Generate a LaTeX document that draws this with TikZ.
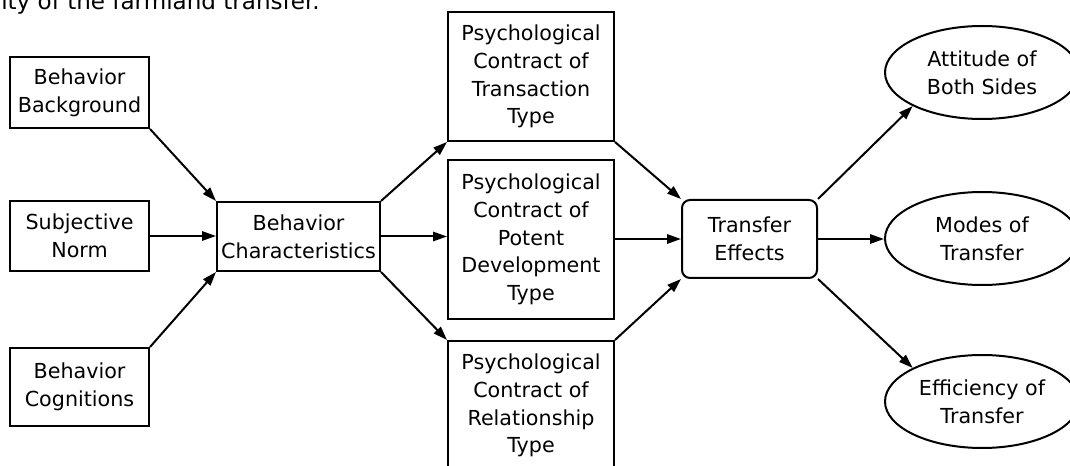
\documentclass[tikz,border=0pt]{standalone}
\usepackage{fontspec}
\setmainfont{DejaVu Sans}
\usetikzlibrary{arrows.meta,shapes.geometric}
\tikzset{
  factorbox/.style={
    rectangle,
    draw=black,
    line width=1.5pt,
    align=center,
    inner sep=0pt,
    minimum width=104.25pt,
    font=\fontsize{15.5}{20.8}\selectfont
  },
  contractbox/.style={
    factorbox,
    minimum width=124.5pt
  },
  effectbox/.style={
    factorbox,
    rounded corners=6pt,
    minimum width=101.25pt,
    minimum height=58.5pt
  },
  outcome/.style={
    ellipse,
    draw=black,
    line width=1.5pt,
    align=center,
    inner sep=0pt,
    minimum width=145.5pt,
    minimum height=69.75pt,
    font=\fontsize{15.5}{20.8}\selectfont
  },
  linkarrow/.style={
    -{Triangle[length=10.5pt,width=7pt]},
    line width=1.5pt,
    draw=black
  }
}
\begin{document}
\begin{tikzpicture}[x=0.75pt,y=-0.75pt]
\clip (0,0) rectangle (1070,466);
\fill[white] (0,0) rectangle (1070,466);

\node[anchor=base west, inner sep=0pt, font=\fontsize{17.3}{20}\selectfont] (caption) at (1,10) {ity of the farmland transfer.};

\node[factorbox, minimum height=53.25pt] (bg) at (79.5,92.5) {Behavior\\Background};
\node[factorbox, minimum height=52.5pt] (norm) at (79.5,236) {Subjective\\Norm};
\node[factorbox, minimum height=58.5pt] (cog) at (79.5,387) {Behavior\\Cognitions};
\node[factorbox, minimum width=122.25pt, minimum height=51.75pt] (chr) at (298.5,236.5) {Behavior\\Characteristics};

\node[contractbox, minimum height=96.75pt] (trans) at (531,76.5) {Psychological\\Contract of\\Transaction\\Type};
\node[contractbox, minimum height=119.25pt] (potent) at (531,239.5) {Psychological\\Contract of\\Potent\\Development\\Type};
\node[contractbox, minimum height=96.75pt] (rel) at (531,405.5) {Psychological\\Contract of\\Relationship\\Type};

\node[effectbox] (effects) at (749.5,239) {Transfer\\Effects};

\node[outcome] (attitude) at (982,72.5) {Attitude of\\Both Sides};
\node[outcome] (modes) at (982,238.5) {Modes of\\Transfer};
\node[outcome] (eff) at (982,401.5) {Efficiency of\\Transfer};

% antecedents
\draw[linkarrow] (bg.south east) -- (chr.north west);
\draw[linkarrow] (norm.east) -- (chr.west |- norm.east);
\draw[linkarrow] (cog.north east) -- (chr.south west);

% contract types
\draw[linkarrow] (chr.north east) -- (trans.south west);
\draw[linkarrow] (chr.east) -- (potent.west |- chr.east);
\draw[linkarrow] (chr.south east) -- (rel.north west);

\draw[linkarrow] (trans.south east) -- (effects.north west);
\draw[linkarrow] (potent.east |- effects.west) -- (effects.west);
\draw[linkarrow] (rel.north east) -- (effects.south west);

% outcomes
\draw[linkarrow] (effects.north east) -- (attitude.south west);
\draw[linkarrow] (effects.east) -- (modes.west |- effects.east);
\draw[linkarrow] (effects.south east) -- (eff.north west);
\end{tikzpicture}
\end{document}
